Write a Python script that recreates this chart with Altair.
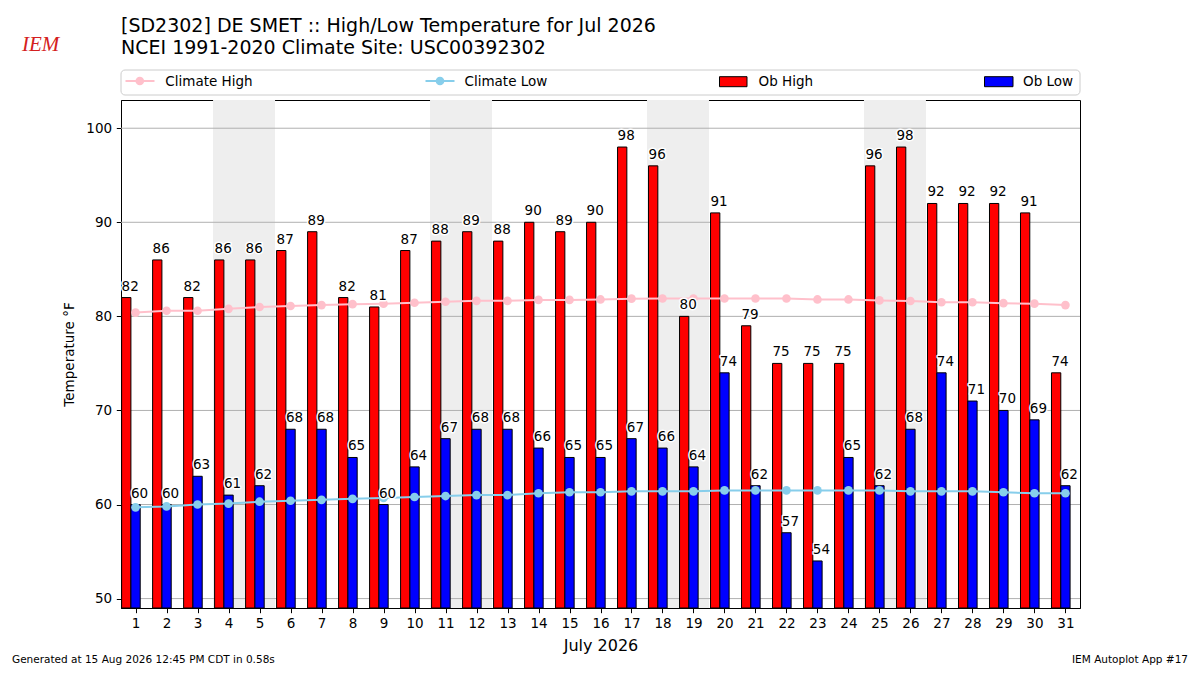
import altair as alt
import pandas as pd

# July 2026 daily observations and NCEI 1991-2020 climatology
days = list(range(1, 32))
ob_high = [82, 86, 82, 86, 86, 87, 89, 82, 81, 87, 88, 89, 88, 90, 89, 90,
           98, 96, 80, 91, 79, 75, 75, 75, 96, 98, 92, 92, 92, 91, 74]
ob_low = [60, 60, 63, 61, 62, 68, 68, 65, 60, 64, 67, 68, 68, 66, 65, 65,
          67, 66, 64, 74, 62, 57, 54, 65, 62, 68, 74, 71, 70, 69, 62]
clim_high = [80.4, 80.6, 80.6, 80.8, 81.0, 81.1, 81.2, 81.3, 81.35, 81.45, 81.55,
             81.65, 81.65, 81.75, 81.75, 81.8, 81.88, 81.9, 81.9, 81.9, 81.9, 81.9,
             81.8, 81.8, 81.7, 81.63, 81.5, 81.5, 81.4, 81.35, 81.2]
clim_low = [59.7, 59.8, 60.0, 60.1, 60.3, 60.4, 60.5, 60.6, 60.7, 60.8, 60.9,
            61.0, 61.0, 61.2, 61.3, 61.3, 61.4, 61.4, 61.4, 61.5, 61.5, 61.5,
            61.5, 61.5, 61.5, 61.4, 61.4, 61.4, 61.3, 61.2, 61.2]
weekend_sat = [4, 11, 18, 25]
y_ticks = [50, 60, 70, 80, 90, 100]

df = pd.DataFrame({"day": days, "high": ob_high, "low": ob_low,
                   "chigh": clim_high, "clow": clim_low})
wk = pd.DataFrame({"sat": weekend_sat})
grid = pd.DataFrame({"t": y_ticks})
one = pd.DataFrame({"k": [0]})

FONT = "DejaVu Sans"
W, H = 959, 508

xs = alt.Scale(domain=[0.53, 31.47], nice=False, zero=False)
ys = alt.Scale(domain=[49, 103], nice=False, zero=False)
xaxis = alt.Axis(title="July 2026", values=days, format="d", grid=False,
                 tickSize=4.7, labelPadding=4, titlePadding=7, titleFontSize=16,
                 labelFontSize=13.5, labelFlush=False)
yaxis = alt.Axis(title="Temperature °F", values=y_ticks, grid=False,
                 tickSize=4.7, labelPadding=4.7, titlePadding=9,
                 labelFontSize=13.5, titleFontSize=13.5)


def note(text, x, y, size=13.5, align="left", baseline="alphabetic", color="black", font=FONT, **kw):
    return alt.Chart(one).mark_text(
        text=text, align=align, baseline=baseline, fontSize=size, font=font, color=color, **kw
    ).encode(x=alt.value(x), y=alt.value(y))


# weekend shading
shade = alt.Chart(wk).transform_calculate(
    x0="datum.sat - 0.5", x1="datum.sat + 1.5"
).mark_rect(color="#eeeeee").encode(
    x=alt.X("x0:Q", scale=xs, axis=xaxis), x2="x1:Q",
    y=alt.value(0), y2=alt.value(H)
)

gridlines = alt.Chart(grid).mark_rule(color="#b0b0b0", strokeWidth=1).encode(
    y=alt.Y("t:Q", scale=ys, axis=yaxis), x=alt.value(0), x2=alt.value(W)
)

base = alt.Chart(df)

high_bars = base.transform_calculate(
    x0="datum.day - 0.45", x1="datum.day - 0.15"
).mark_rect(color="#ff0000", stroke="black", strokeWidth=1).encode(
    x=alt.X("x0:Q", scale=xs, axis=xaxis), x2="x1:Q",
    y=alt.Y("high:Q", scale=ys, axis=yaxis), y2=alt.value(H)
)

low_bars = base.transform_calculate(
    x0="datum.day - 0.15", x1="datum.day + 0.15"
).mark_rect(color="#0000ff", stroke="black", strokeWidth=1).encode(
    x=alt.X("x0:Q", scale=xs, axis=xaxis), x2="x1:Q",
    y=alt.Y("low:Q", scale=ys, axis=yaxis), y2=alt.value(H)
)

ch_line = base.mark_line(color="#ffc0cb", strokeWidth=2).encode(
    x=alt.X("day:Q", scale=xs, axis=xaxis), y=alt.Y("chigh:Q", scale=ys, axis=yaxis))
ch_pts = base.mark_circle(color="#ffc0cb", size=75, opacity=1).encode(
    x=alt.X("day:Q", scale=xs, axis=xaxis), y=alt.Y("chigh:Q", scale=ys, axis=yaxis))
cl_line = base.mark_line(color="#87ceeb", strokeWidth=2).encode(
    x=alt.X("day:Q", scale=xs, axis=xaxis), y=alt.Y("clow:Q", scale=ys, axis=yaxis))
cl_pts = base.mark_circle(color="#87ceeb", size=75, opacity=1).encode(
    x=alt.X("day:Q", scale=xs, axis=xaxis), y=alt.Y("clow:Q", scale=ys, axis=yaxis))


def bar_labels(field, offset):
    lab = base.transform_calculate(xl=f"datum.day + ({offset})")
    enc = dict(x=alt.X("xl:Q", scale=xs, axis=xaxis),
               y=alt.Y(f"{field}:Q", scale=ys, axis=yaxis),
               text=alt.Text(f"{field}:Q", format="d"))
    halo = lab.mark_text(align="left", baseline="alphabetic", dy=-7, fontSize=13.5, font=FONT,
                         fill="white", stroke="white", strokeWidth=3, strokeJoin="round").encode(**enc)
    txt = lab.mark_text(align="left", baseline="alphabetic", dy=-7, fontSize=13.5, font=FONT,
                        color="black").encode(**enc)
    return halo + txt


# legend drawn above the plot area
leg_box = alt.Chart(one).mark_rect(fill="white", stroke="#cccccc", strokeWidth=1, cornerRadius=4).encode(
    x=alt.value(0), x2=alt.value(W), y=alt.value(-30), y2=alt.value(-5))
leg_ch_line = alt.Chart(one).mark_rule(color="#ffc0cb", strokeWidth=2).encode(
    x=alt.value(4.5), x2=alt.value(33.5), y=alt.value(-19))
leg_ch_pt = alt.Chart(one).mark_circle(color="#ffc0cb", size=75, opacity=1).encode(
    x=alt.value(18.8), y=alt.value(-19))
leg_cl_line = alt.Chart(one).mark_rule(color="#87ceeb", strokeWidth=2).encode(
    x=alt.value(304.5), x2=alt.value(333.5), y=alt.value(-19))
leg_cl_pt = alt.Chart(one).mark_circle(color="#87ceeb", size=75, opacity=1).encode(
    x=alt.value(319), y=alt.value(-19))
leg_oh = alt.Chart(one).mark_rect(fill="#ff0000", stroke="black", strokeWidth=1).encode(
    x=alt.value(598.5), x2=alt.value(626), y=alt.value(-23.3), y2=alt.value(-13.3))
leg_ol = alt.Chart(one).mark_rect(fill="#0000ff", stroke="black", strokeWidth=1).encode(
    x=alt.value(863.5), x2=alt.value(892), y=alt.value(-23.3), y2=alt.value(-13.3))

texts = [
    note("[SD2302] DE SMET :: High/Low Temperature for Jul 2026", 0, -68.3, size=19),
    note("NCEI 1991-2020 Climate Site: USC00392302", 0, -45.7, size=19),
    note("Climate High", 44.3, -18.5, baseline="middle"),
    note("Climate Low", 343.5, -18.5, baseline="middle"),
    note("Ob High", 637.5, -18.5, baseline="middle"),
    note("Ob Low", 902, -18.5, baseline="middle"),
    note("IEM", -99, -49, size=21, color="#d42020", font="Liberation Serif", fontStyle="italic"),
    note("Generated at 15 Aug 2026 12:45 PM CDT in 0.58s", -109, 563, size=10.5),
    note("IEM Autoplot App #17", 1067, 563, size=10.5, align="right"),
]

chart = alt.layer(
    shade, gridlines, high_bars, low_bars,
    ch_line, ch_pts, cl_line, cl_pts,
    bar_labels("high", -0.45), bar_labels("low", -0.15),
    leg_box, leg_ch_line, leg_ch_pt, leg_cl_line, leg_cl_pt, leg_oh, leg_ol,
    *texts
).properties(
    width=W, height=H,
    autosize=alt.AutoSizeParams(type="none"),
    padding={"left": 113, "top": 92, "right": 112, "bottom": 59}
).configure_view(
    stroke="black", strokeWidth=1
).configure_axis(
    labelFont=FONT, titleFont=FONT, labelColor="black", titleColor="black",
    domainColor="black", tickColor="black", titleFontWeight="normal"
)

chart.save("out.html", embed_options={"renderer": "svg", "actions": False})
